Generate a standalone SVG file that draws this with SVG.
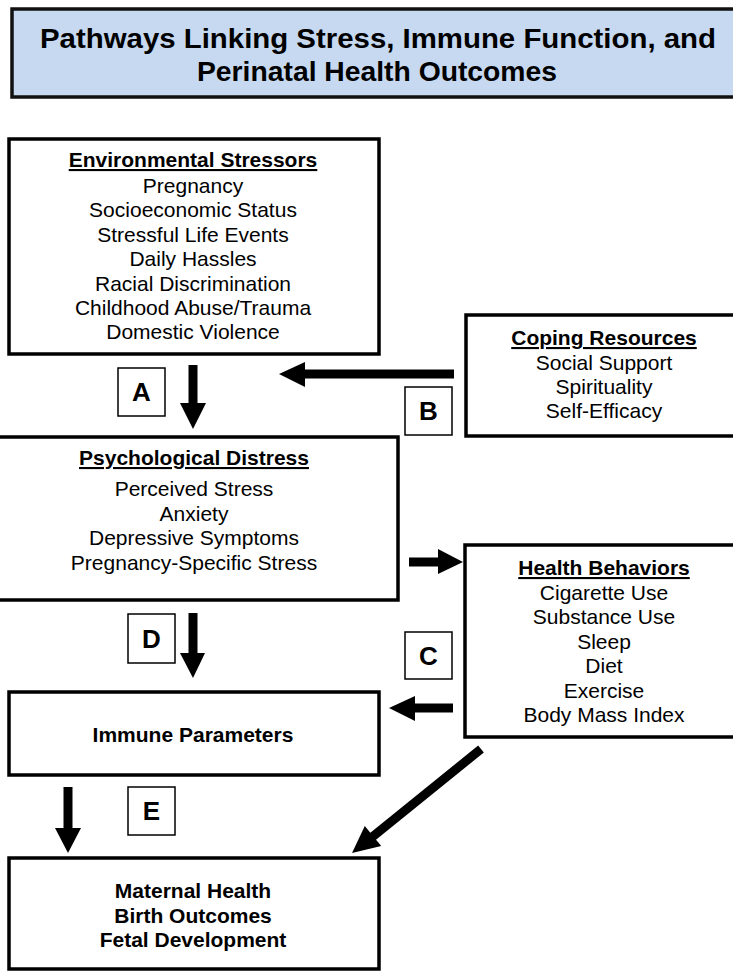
<svg xmlns="http://www.w3.org/2000/svg" width="733" height="971" viewBox="0 0 733 971">
<style>
.box{fill:#fff;stroke:#000;stroke-width:3.5}
.lbl{fill:#fff;stroke:#000;stroke-width:1.5}
text{font-family:"Liberation Sans",Arial,sans-serif;fill:#000;text-anchor:middle}
.h{font-size:21px;font-weight:bold;text-decoration:underline}
.t{font-size:21px}
.b{font-size:21px;font-weight:bold}
.L{font-size:26px;font-weight:bold}
.sh{stroke:#000;stroke-width:9;fill:none}
.hd{fill:#000}
</style>
<rect width="733" height="971" fill="#fff"/>
<g id="title">
<rect x="12" y="9" width="730" height="88" fill="#C6D9F1" stroke="#111" stroke-width="3.5"/>
<text x="378" y="48" style="font-size:28px;font-weight:bold" textLength="676" lengthAdjust="spacingAndGlyphs">Pathways Linking Stress, Immune Function, and</text>
<text x="377" y="81" style="font-size:28px;font-weight:bold" textLength="360" lengthAdjust="spacingAndGlyphs">Perinatal Health Outcomes</text>
</g>
<g id="env">
<rect class="box" x="9" y="139" width="370" height="215"/>
<text class="h" x="193" y="167">Environmental Stressors</text>
<text class="t" x="193" y="193">Pregnancy</text>
<text class="t" x="193" y="217">Socioeconomic Status</text>
<text class="t" x="193" y="242">Stressful Life Events</text>
<text class="t" x="193" y="266">Daily Hassles</text>
<text class="t" x="193" y="291">Racial Discrimination</text>
<text class="t" x="193" y="315">Childhood Abuse/Trauma</text>
<text class="t" x="193" y="339">Domestic Violence</text>
</g>
<g id="coping">
<rect class="box" x="466" y="315" width="270" height="121"/>
<text class="h" x="604" y="345">Coping Resources</text>
<text class="t" x="604" y="370">Social Support</text>
<text class="t" x="604" y="394">Spirituality</text>
<text class="t" x="604" y="418">Self-Efficacy</text>
</g>
<g id="psych">
<rect class="box" x="-3" y="437" width="401" height="163"/>
<text class="h" x="194" y="465">Psychological Distress</text>
<text class="t" x="194" y="496">Perceived Stress</text>
<text class="t" x="194" y="521">Anxiety</text>
<text class="t" x="194" y="545">Depressive Symptoms</text>
<text class="t" x="194" y="570">Pregnancy-Specific Stress</text>
</g>
<g id="health">
<rect class="box" x="465" y="545" width="271" height="192"/>
<text class="h" x="604" y="575">Health Behaviors</text>
<text class="t" x="604" y="600">Cigarette Use</text>
<text class="t" x="604" y="624">Substance Use</text>
<text class="t" x="604" y="649">Sleep</text>
<text class="t" x="604" y="673">Diet</text>
<text class="t" x="604" y="698">Exercise</text>
<text class="t" x="604" y="722">Body Mass Index</text>
</g>
<g id="immune">
<rect class="box" x="9" y="692" width="370" height="83"/>
<text class="b" x="193" y="742">Immune Parameters</text>
</g>
<g id="outcomes">
<rect class="box" x="9" y="858" width="370" height="111"/>
<text class="b" x="193" y="898">Maternal Health</text>
<text class="b" x="193" y="923">Birth Outcomes</text>
<text class="b" x="193" y="947">Fetal Development</text>
</g>
<g id="labels">
<g id="labelA"><rect class="lbl" x="118" y="368" width="47" height="48"/><text class="L" x="141.5" y="401">A</text></g>
<g id="labelB"><rect class="lbl" x="405" y="387" width="47" height="48"/><text class="L" x="428.5" y="420">B</text></g>
<g id="labelC"><rect class="lbl" x="405" y="632" width="47" height="47"/><text class="L" x="428.5" y="665">C</text></g>
<g id="labelD"><rect class="lbl" x="128" y="614" width="47" height="49"/><text class="L" x="151.5" y="648">D</text></g>
<g id="labelE"><rect class="lbl" x="128" y="787" width="47" height="48"/><text class="L" x="151.5" y="820">E</text></g>
</g>
<g id="connectors">
<line class="sh" x1="193" y1="365" x2="193" y2="405"/>
<polygon class="hd" points="180,403 206,403 193,429"/>
<line class="sh" x1="454" y1="374" x2="303" y2="374"/>
<polygon class="hd" points="305,362 305,387 279,374"/>
<line class="sh" x1="409" y1="562" x2="440" y2="562"/>
<polygon class="hd" points="438,549 438,574 463,562"/>
<line class="sh" x1="193" y1="613" x2="193" y2="655"/>
<polygon class="hd" points="180,653 205,653 193,678"/>
<line class="sh" x1="453" y1="708" x2="413" y2="708"/>
<polygon class="hd" points="415,696 415,721 389,708"/>
<line class="sh" x1="68" y1="787" x2="68" y2="830"/>
<polygon class="hd" points="55,828 81,828 68,853"/>
<line class="sh" x1="481" y1="749" x2="371" y2="838"/>
<polygon class="hd" points="352,853 364.8,825.9 381.2,846.1"/>
</g>
</svg>
